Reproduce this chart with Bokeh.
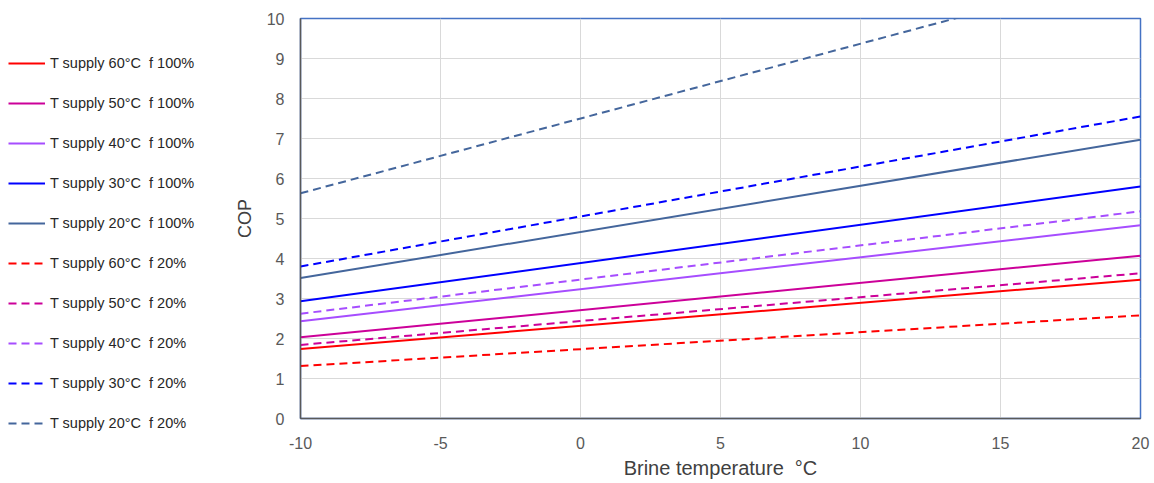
from bokeh.plotting import figure
from bokeh.layouts import row, column
from bokeh.models import Legend, LegendItem, Range1d, FixedTicker
from bokeh.embed import file_html
from bokeh.resources import INLINE

brine_temp = [-10, 20]
labels = [
    "T supply 60°C  f 100%", "T supply 50°C  f 100%", "T supply 40°C  f 100%",
    "T supply 30°C  f 100%", "T supply 20°C  f 100%",
    "T supply 60°C  f 20%", "T supply 50°C  f 20%", "T supply 40°C  f 20%",
    "T supply 30°C  f 20%", "T supply 20°C  f 20%",
]
cop_60_f100 = [1.74, 3.47]
cop_50_f100 = [2.03, 4.07]
cop_40_f100 = [2.43, 4.83]
cop_30_f100 = [2.93, 5.80]
cop_20_f100 = [3.51, 6.97]
cop_60_f20 = [1.31, 2.58]
cop_50_f20 = [1.84, 3.63]
cop_40_f20 = [2.62, 5.18]
cop_30_f20 = [3.80, 7.55]
cop_20_f20 = [5.63, 11.24]
x_ticks = [-10, -5, 0, 5, 10, 15, 20]
x_tick_labels = ["-10", "-5", "0", "5", "10", "15", "20"]
y_ticks = [0, 1, 2, 3, 4, 5, 6, 7, 8, 9, 10]

series = [cop_60_f100, cop_50_f100, cop_40_f100, cop_30_f100, cop_20_f100,
          cop_60_f20, cop_50_f20, cop_40_f20, cop_30_f20, cop_20_f20]
colors = ["#FF0000", "#CC0099", "#A64DFF", "#0000FF", "#44669C"] * 2
dashes = ["solid"] * 5 + ["8 5"] * 5

H = 481
LW = 228
# legend panel (its own small figure, left of the chart); its ranges keep the
# copies of the lines out of view so only the legend shows
pl = figure(width=LW, height=H, output_backend="svg", toolbar_location=None,
            x_range=Range1d(100, 101), y_range=Range1d(100, 101),
            min_border_left=8, min_border_right=0, min_border_top=53, min_border_bottom=0)
pl.axis.visible = False
pl.grid.visible = False
pl.outline_line_color = None
pl.background_fill_color = "white"
pl.border_fill_color = "white"

# main chart
p = figure(width=1150 - LW, height=H, output_backend="svg", toolbar_location=None,
           x_range=Range1d(-10, 20), y_range=Range1d(0, 10),
           min_border_left=300 - LW, min_border_right=10, min_border_top=18,
           min_border_bottom=H - 418)
p.background_fill_color = "white"
p.border_fill_color = "white"
p.outline_line_color = "#4472C4"
p.outline_line_width = 1.5

items = []
for lab, ys, c, d in zip(labels, series, colors, dashes):
    p.line(brine_temp, ys, line_color=c, line_width=2, line_dash=d)
    r = pl.line(brine_temp, ys, line_color=c, line_width=2, line_dash=d)
    items.append(LegendItem(label=lab.replace("  ", "\u00a0\u00a0"), renderers=[r]))

for ax in (p.xaxis[0], p.yaxis[0]):
    ax.axis_line_color = "#595959"
    ax.axis_line_width = 1.5
    ax.major_tick_out = 0
    ax.major_tick_in = 0
    ax.minor_tick_out = 0
    ax.minor_tick_in = 0
    ax.major_label_text_color = "#595959"
    ax.major_label_text_font = "Liberation Sans"
    ax.major_label_text_font_size = "16px"
    ax.axis_label_text_font = "Liberation Sans"
    ax.axis_label_text_font_style = "normal"
    ax.axis_label_text_color = "#404040"

p.xaxis.ticker = FixedTicker(ticks=x_ticks)
p.xaxis.major_label_overrides = dict(zip(x_ticks, x_tick_labels))
p.yaxis.ticker = FixedTicker(ticks=y_ticks)
p.xaxis.major_label_standoff = 18
p.yaxis.major_label_standoff = 16
p.xaxis.axis_label = "Brine temperature\u00a0\u00a0°C"
p.yaxis.axis_label = "COP"
p.xaxis.axis_label_text_font_size = "20px"
p.yaxis.axis_label_text_font_size = "18px"
p.xaxis.axis_label_standoff = 5
p.yaxis.axis_label_standoff = 9

p.xgrid.grid_line_color = "#D9D9D9"
p.ygrid.grid_line_color = "#D9D9D9"

legend = Legend(items=items, location="top_left", orientation="vertical",
                glyph_width=37, glyph_height=20, label_height=20, spacing=20,
                padding=0, margin=0, label_standoff=5,
                label_text_font="Liberation Sans", label_text_font_size="14.5px",
                label_text_color="#262626",
                border_line_color=None, background_fill_alpha=0)
pl.add_layout(legend)

layout = row(column(pl), column(p))
open("out.html", "w").write(file_html(layout, INLINE))
